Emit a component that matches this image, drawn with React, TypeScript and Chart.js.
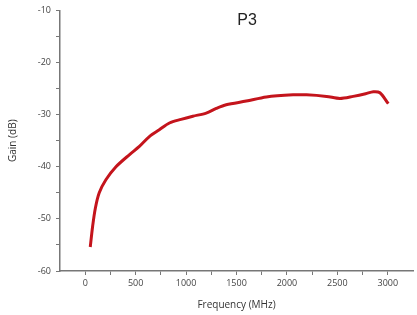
import React, { useEffect, useRef } from "react";
import { Chart, registerables } from "chart.js";

Chart.register(...registerables);

const freqMHz = [50, 73, 100, 139, 205, 305, 437, 537, 636, 735, 835, 950, 1067, 1200, 1300, 1398, 1597, 1796, 2061, 2194, 2393, 2525, 2657, 2780, 2856, 2922, 3005];
const gainDb = [-55.4, -51.5, -48.0, -45.0, -42.5, -40.0, -37.7, -36.1, -34.2, -32.9, -31.6, -30.9, -30.3, -29.7, -28.8, -28.1, -27.4, -26.6, -26.2, -26.2, -26.5, -26.9, -26.5, -26.0, -25.6, -25.8, -27.9];
const xMajorLabels = [0, 500, 1000, 1500, 2000, 2500, 3000];
const yMajorLabels = [-60, -50, -40, -30, -20, -10];
const titleText = "P3";
const xTitle = "Frequency (MHz)";
const yTitle = "Gain (dB)";

const titlePlugin = {
  id: "insideTitle",
  afterDraw(chart: any) {
    const { ctx, chartArea } = chart;
    ctx.save();
    ctx.fillStyle = "#222";
    ctx.font = "16px 'Liberation Sans', Arial, sans-serif";
    ctx.textAlign = "center";
    ctx.textBaseline = "top";
    ctx.fillText(titleText, chartArea.left + (chartArea.right - chartArea.left) * 0.53, chartArea.top + 2);
    ctx.restore();
  },
};

export default function App() {
  const ref = useRef<HTMLCanvasElement | null>(null);
  useEffect(() => {
    document.body.style.margin = "0";
    const chart = new Chart(ref.current as HTMLCanvasElement, {
      type: "line",
      data: {
        datasets: [
          {
            data: freqMHz.map((f, i) => ({ x: f, y: gainDb[i] })),
            borderColor: "#c4141c",
            borderWidth: 3,
            pointRadius: 0,
            tension: 0.3,
            fill: false,
          },
        ],
      },
      options: {
        animation: false,
        responsive: false,
        layout: { padding: { top: 6, right: 4, left: 0, bottom: 0 } },
        plugins: { legend: { display: false }, tooltip: { enabled: false }, title: { display: false } },
        scales: {
          x: {
            type: "linear",
            min: -250,
            max: 3250,
            afterFit: (s: any) => { s.height = 44; },
            ticks: {
              stepSize: 250,
              autoSkip: false,
              maxRotation: 0,
              color: "#444",
              font: { family: "'Open Sans', sans-serif", size: 9 },
              padding: 3,
              callback: (v: any) => (xMajorLabels.includes(Number(v)) ? String(v) : ""),
            },
            grid: {
              drawOnChartArea: false,
              drawTicks: true,
              tickLength: 4,
              tickColor: (c: any) => (c.tick && (c.tick.value === -250 || c.tick.value === 3250) ? "rgba(0,0,0,0)" : "#777"),
            },
            border: { color: "#777", width: 1.5 },
            title: { display: true, text: xTitle, color: "#333", font: { family: "'Open Sans', sans-serif", size: 10 }, padding: { top: 0 } },
          },
          y: {
            min: -60,
            max: -10,
            afterFit: (s: any) => { s.width = 60; },
            ticks: {
              stepSize: 5,
              autoSkip: false,
              color: "#444",
              font: { family: "'Open Sans', sans-serif", size: 9 },
              padding: 5,
              callback: (v: any) => (yMajorLabels.includes(Number(v)) ? String(v) : ""),
            },
            grid: { drawOnChartArea: false, drawTicks: true, tickLength: 4, tickColor: "#777" },
            border: { color: "#777", width: 1.5 },
            title: { display: true, text: yTitle, color: "#333", font: { family: "'Open Sans', sans-serif", size: 10 }, padding: { top: 7, bottom: 4 } },
          },
        },
      },
      plugins: [titlePlugin],
    } as any);
    return () => chart.destroy();
  }, []);
  return (
    <div style={{ position: "absolute", left: 0, top: 0, width: 417, height: 315, background: "#fff" }}>
      <canvas ref={ref} width={417} height={315} />
    </div>
  );
}
